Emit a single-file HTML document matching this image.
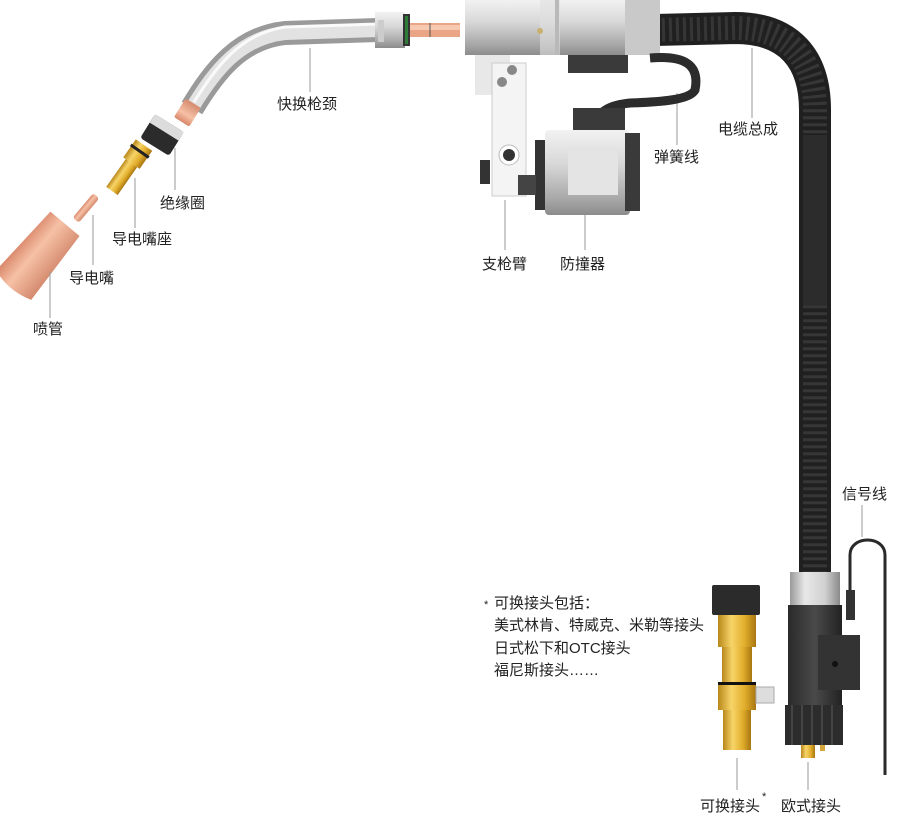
<!DOCTYPE html>
<html><head><meta charset="utf-8">
<style>
html,body{margin:0;padding:0;background:#fff;}
svg{display:block;}
text{font-family:"Liberation Sans","Noto Sans CJK SC",sans-serif;fill:#222;font-size:15px;}
</style></head><body>
<svg width="900" height="820" viewBox="0 0 900 820" xmlns="http://www.w3.org/2000/svg">
<defs>
<linearGradient id="sil" x1="0" y1="0" x2="0" y2="1">
<stop offset="0" stop-color="#f2f2f2"/><stop offset=".4" stop-color="#d8d8d8"/><stop offset=".8" stop-color="#a9a9a9"/><stop offset="1" stop-color="#8c8c8c"/></linearGradient>
<linearGradient id="silh" x1="0" y1="0" x2="1" y2="0">
<stop offset="0" stop-color="#9a9a9a"/><stop offset=".3" stop-color="#e8e8e8"/><stop offset=".7" stop-color="#d0d0d0"/><stop offset="1" stop-color="#8a8a8a"/></linearGradient>
<linearGradient id="cu" x1="0" y1="0" x2="1" y2="0">
<stop offset="0" stop-color="#d9876a"/><stop offset=".4" stop-color="#f6c1a6"/><stop offset="1" stop-color="#d48a6d"/></linearGradient>
<linearGradient id="br" x1="0" y1="0" x2="1" y2="0">
<stop offset="0" stop-color="#b8871a"/><stop offset=".35" stop-color="#f7d468"/><stop offset=".7" stop-color="#e2ae2c"/><stop offset="1" stop-color="#a87610"/></linearGradient>
<linearGradient id="blk" x1="0" y1="0" x2="1" y2="0">
<stop offset="0" stop-color="#2a2a2a"/><stop offset=".5" stop-color="#4a4a4a"/><stop offset="1" stop-color="#222"/></linearGradient>
</defs>

<!-- torch neck -->
<path d="M192,108 C215,70 240,38 285,33 L378,30" fill="none" stroke="#9a9a9a" stroke-width="24"/>
<path d="M192,108 C215,70 240,38 285,33 L378,30" fill="none" stroke="#e2e2e2" stroke-width="14"/>
<path d="M194,102 C217,66 240,34 285,27 L378,24" fill="none" stroke="#fafafa" stroke-width="3"/>
<g transform="translate(189,110) rotate(-58)"><rect x="-14" y="-9" width="22" height="18" rx="2" fill="url(#cu)"/></g>
<rect x="375" y="12" width="30" height="36" fill="url(#sil)"/>
<rect x="378" y="20" width="6" height="22" fill="#ccc"/>
<rect x="403" y="14" width="7" height="32" fill="#333"/>
<rect x="405" y="16" width="3" height="28" fill="#2e7b3a"/>
<rect x="410" y="23" width="50" height="14" fill="#e9a585"/>
<rect x="410" y="25" width="50" height="5" fill="#f7c9b1"/>
<line x1="430" y1="23" x2="430" y2="37" stroke="#555"/>

<!-- insulator -->
<g transform="translate(162,135) rotate(32)"><rect x="-17" y="-14" width="34" height="28" rx="3" fill="#2b2b2b"/><rect x="-17" y="-14" width="34" height="10" fill="#dcdcdc"/></g>
<!-- contact tip holder -->
<g transform="translate(128,168) rotate(35)">
<rect x="-10" y="-28" width="20" height="22" fill="url(#br)"/>
<rect x="-11" y="-22" width="22" height="3" fill="#222"/>
<rect x="-7" y="-6" width="14" height="34" fill="url(#br)"/>
</g>
<!-- contact tip -->
<g transform="translate(86,208) rotate(40)"><rect x="-4" y="-16" width="8" height="32" rx="3" fill="url(#cu)"/></g>
<!-- nozzle -->
<g transform="translate(38,256) rotate(40)"><path d="M-19,-42 L19,-42 L23,38 Q0,46 -23,38 Z" fill="url(#cu)"/></g>

<!-- leaders -->
<g stroke="#999" stroke-width="1">
<line x1="310" y1="48" x2="310" y2="92"/>
<line x1="175" y1="148" x2="175" y2="190"/>
<line x1="135" y1="178" x2="135" y2="228"/>
<line x1="93" y1="215" x2="93" y2="265"/>
<line x1="50" y1="272" x2="50" y2="318"/>
<line x1="505" y1="200" x2="505" y2="250"/>
<line x1="585" y1="215" x2="585" y2="250"/>
<line x1="677" y1="93" x2="677" y2="145"/>
<line x1="752" y1="48" x2="752" y2="118"/>
<line x1="862" y1="505" x2="862" y2="537"/>
<line x1="737" y1="758" x2="737" y2="790"/>
<line x1="808" y1="762" x2="808" y2="790"/>
</g>
<text x="277" y="109">快换枪颈</text>
<text x="160" y="208">绝缘圈</text>
<text x="112" y="244">导电嘴座</text>
<text x="69" y="283">导电嘴</text>
<text x="33" y="334">喷管</text>

<!-- cable -->
<path d="M655,30 L735,28 C790,28 815,60 815,110 L815,578" fill="none" stroke="#202020" stroke-width="32"/>
<path d="M655,30 L735,28 C790,28 815,60 815,110 L815,578" fill="none" stroke="#363636" stroke-width="24" stroke-dasharray="3 4"/>
<rect x="803" y="135" width="24" height="170" fill="#2c2c2c"/>

<!-- main body -->
<rect x="465" y="0" width="195" height="55" fill="url(#sil)"/>
<rect x="540" y="0" width="20" height="55" fill="#e0e0e0" opacity=".6"/>
<rect x="555" y="0" width="4" height="55" fill="#b9b9b9"/>
<rect x="625" y="0" width="35" height="55" fill="#c9c9c9"/>
<circle cx="540" cy="31" r="3" fill="#c9b070"/>
<rect x="568" y="55" width="60" height="18" fill="#3a3a3a"/>
<!-- arm -->
<rect x="475" y="55" width="35" height="40" fill="#e8e8e8"/>
<rect x="492" y="63" width="34" height="133" fill="#f4f4f4" stroke="#ccc"/>
<circle cx="512" cy="70" r="5" fill="#888"/><circle cx="502" cy="82" r="5" fill="#888"/>
<circle cx="509" cy="155" r="10" fill="#fff" stroke="#bbb"/><circle cx="509" cy="155" r="6" fill="#333"/>
<rect x="480" y="160" width="10" height="24" fill="#333"/>
<!-- spring wire -->
<path d="M650,58 C685,55 700,65 695,90 C690,100 660,102 630,103 C610,105 600,110 590,128" fill="none" stroke="#2c2c2c" stroke-width="9"/>
<!-- collision sensor -->
<rect x="573" y="108" width="52" height="30" fill="#3a3a3a"/>
<rect x="535" y="140" width="10" height="70" fill="#333"/>
<rect x="545" y="130" width="85" height="85" rx="4" fill="url(#sil)"/>
<rect x="568" y="150" width="50" height="45" fill="#e4e4e4"/>
<rect x="625" y="133" width="15" height="78" fill="#3a3a3a"/>
<rect x="518" y="175" width="18" height="20" fill="#444"/>

<text x="482" y="269">支枪臂</text>
<text x="560" y="269">防撞器</text>
<text x="654" y="162">弹簧线</text>
<text x="718" y="134">电缆总成</text>
<text x="842" y="499">信号线</text>

<!-- signal wire -->
<path d="M850,605 L850,555 C850,535 885,535 885,555 L885,775" fill="none" stroke="#2a2a2a" stroke-width="3"/>
<rect x="846" y="590" width="9" height="30" fill="#333"/>

<!-- euro connector -->
<rect x="790" y="572" width="50" height="35" fill="url(#silh)"/>
<rect x="788" y="605" width="54" height="100" fill="url(#blk)"/>
<rect x="818" y="635" width="42" height="55" fill="#333"/>
<circle cx="835" cy="664" r="3" fill="#111"/>
<rect x="785" y="705" width="58" height="40" fill="#2c2c2c"/>
<g stroke="#444" stroke-width="2"><line x1="792" y1="705" x2="792" y2="745"/><line x1="802" y1="705" x2="802" y2="745"/><line x1="812" y1="705" x2="812" y2="745"/><line x1="822" y1="705" x2="822" y2="745"/><line x1="832" y1="705" x2="832" y2="745"/></g>
<rect x="801" y="745" width="14" height="13" fill="url(#br)"/>
<rect x="820" y="745" width="5" height="6" fill="#d6a73a"/>

<!-- replaceable connector -->
<rect x="712" y="585" width="48" height="30" rx="2" fill="#2b2b2b"/>
<rect x="718" y="615" width="38" height="32" fill="url(#br)"/>
<rect x="722" y="647" width="30" height="35" fill="url(#br)"/>
<rect x="718" y="682" width="38" height="3" fill="#111"/>
<rect x="718" y="685" width="38" height="25" fill="url(#br)"/>
<rect x="756" y="687" width="18" height="16" fill="#ddd" stroke="#aaa"/>
<rect x="723" y="710" width="28" height="40" fill="url(#br)"/>

<text x="484" y="608" style="font-size:11px">*</text>
<text x="494" y="608">可换接头包括：</text>
<text x="494" y="630">美式林肯、特威克、米勒等接头</text>
<text x="494" y="653">日式松下和OTC接头</text>
<text x="494" y="675">福尼斯接头……</text>

<text x="700" y="811">可换接头</text>
<text x="762" y="800" style="font-size:11px">*</text>
<text x="781" y="811">欧式接头</text>
</svg>
</body></html>
